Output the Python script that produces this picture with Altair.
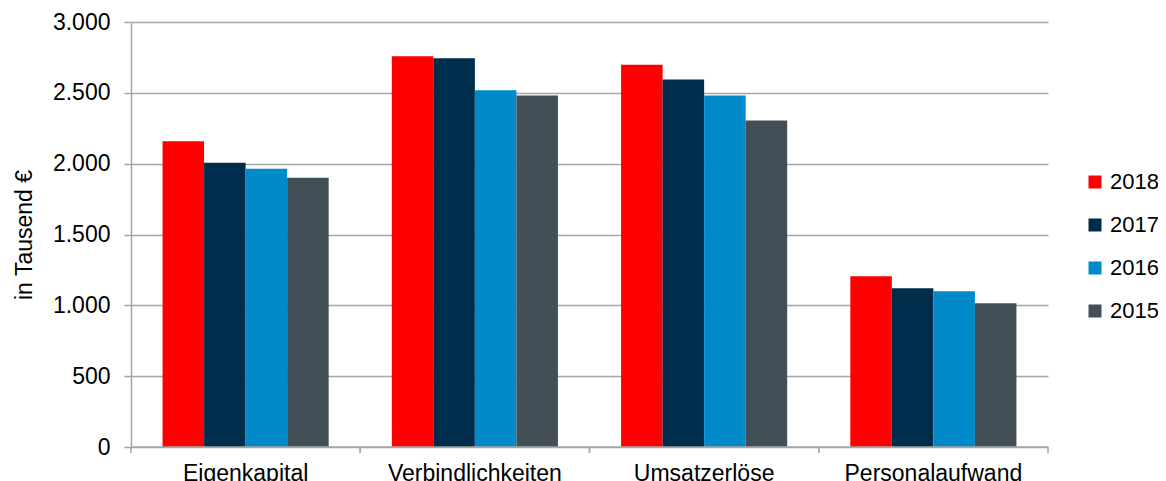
import altair as alt
import pandas as pd

categories = ["Eigenkapital", "Verbindlichkeiten", "Umsatzerlöse", "Personalaufwand"]
years = ["2018", "2017", "2016", "2015"]
colors = ["#FF0000", "#002D4B", "#008AC9", "#434F57"]
values = {
    "2018": [2158, 2758, 2699, 1205],
    "2017": [2007, 2744, 2595, 1120],
    "2016": [1965, 2518, 2482, 1099],
    "2015": [1901, 2482, 2304, 1014],
}
y_ticks = [0, 500, 1000, 1500, 2000, 2500, 3000]

rows = []
for y in years:
    for c, v in zip(categories, values[y]):
        rows.append({"Kategorie": c, "Jahr": y, "Wert": v})
df = pd.DataFrame(rows)
cat_df = pd.DataFrame({"Kategorie": categories})

FONT = "Liberation Sans"
GRID = "#A6A6A6"
W, H = 917, 425

x_scale = alt.Scale(domain=categories, paddingInner=0, paddingOuter=0)
x_axis = alt.Axis(title=None, ticks=False, domain=False, grid=False,
                  labelAngle=0, labelPadding=15, labelFontSize=23,
                  labelFont=FONT, labelColor="#000000")

bars = alt.Chart(df).mark_bar(strokeWidth=0).encode(
    x=alt.X("Kategorie:N", sort=categories, scale=x_scale, axis=x_axis),
    xOffset=alt.XOffset("Jahr:N", sort=years,
                        scale=alt.Scale(domain=years, paddingInner=0, paddingOuter=0.76)),
    y=alt.Y("Wert:Q", scale=alt.Scale(domain=[0, 3000], nice=False),
            axis=alt.Axis(title="in Tausend €", values=y_ticks,
                          labelExpr="replace(format(datum.value, ','), ',', '.')",
                          labelFontSize=23, labelFont=FONT, labelColor="#000000",
                          labelPadding=14, tickSize=7, tickColor=GRID, tickWidth=1.5,
                          domainColor=GRID, domainWidth=1.5,
                          gridColor=GRID, gridWidth=1.5,
                          titleFontSize=23, titleFont=FONT, titleFontWeight="normal",
                          titleColor="#000000", titlePadding=16)),
    color=alt.Color("Jahr:N", sort=years,
                    scale=alt.Scale(domain=years, range=colors),
                    legend=alt.Legend(title=None, orient="none", legendX=953, legendY=149,
                                      symbolType="square", symbolSize=169,
                                      symbolStrokeWidth=0, labelFontSize=22,
                                      labelFont=FONT, labelColor="#000000",
                                      rowPadding=21, labelOffset=4, padding=0)),
)

xdomain = alt.Chart(cat_df).mark_rule(color=GRID, strokeWidth=1.5).encode(
    x=alt.X("Kategorie:N", sort=categories, scale=x_scale, bandPosition=0, axis=x_axis),
    x2=alt.X2("Kategorie:N", bandPosition=1),
    y=alt.value(H),
)

ticks0 = alt.Chart(cat_df).mark_rule(color=GRID, strokeWidth=1.5).encode(
    x=alt.X("Kategorie:N", sort=categories, scale=x_scale, bandPosition=0, axis=x_axis),
    y=alt.value(H),
    y2=alt.value(H + 6),
)
ticks1 = alt.Chart(cat_df).mark_rule(color=GRID, strokeWidth=1.5).encode(
    x=alt.X("Kategorie:N", sort=categories, scale=x_scale, bandPosition=1, axis=x_axis),
    y=alt.value(H),
    y2=alt.value(H + 6),
)

chart = alt.layer(bars, xdomain, ticks0, ticks1).properties(
    width=W, height=H,
    autosize=alt.AutoSizeParams(type="none"),
    padding={"left": 123, "top": 14, "right": 110, "bottom": 40},
).configure_view(stroke=None)

chart.save("out.html", embed_options={"renderer": "svg", "actions": False})
